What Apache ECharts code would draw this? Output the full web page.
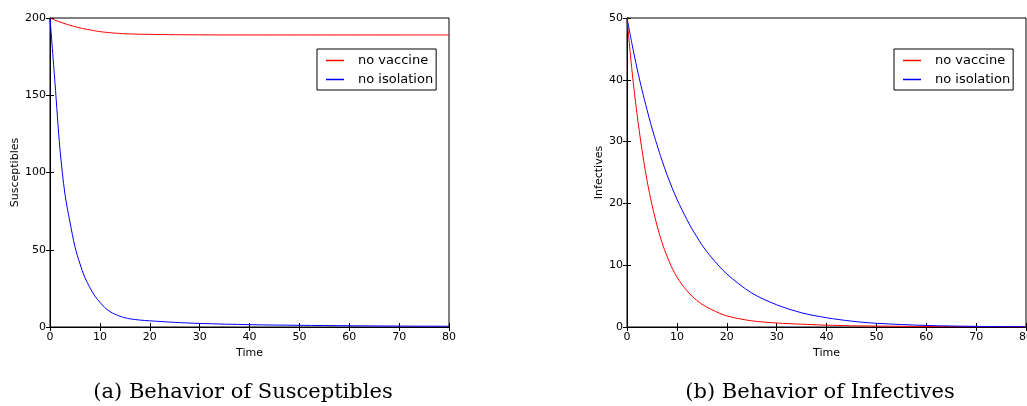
<!DOCTYPE html>
<html>
<head>
<meta charset="utf-8">
<script src="https://cdn.jsdelivr.net/npm/echarts@6/dist/echarts.min.js"></script>
<style>
html,body{margin:0;padding:0;background:#fff;}
#chart{width:1027px;height:406px;}
</style>
</head>
<body>
<div id="chart"></div>
<script>
// ---- data ----
var seriesNames = ['no vaccine', 'no isolation'];
var xTicks = [0, 10, 20, 30, 40, 50, 60, 70, 80];

var tSus = [0,1,2,3,4,5,6,7,8,9,10,11,12,13,14,15,16,18,20,25,30,40,50,60,70,80];
var susNoVaccine = [200,198.6,197.4,196.3,195.3,194.4,193.6,192.9,192.3,191.7,191.2,190.8,190.5,190.2,190.0,189.8,189.7,189.5,189.4,189.2,189.1,189.0,189.0,189.0,189.0,189.0];
var susNoIsolation = [200,158,115,86,68,52,41,32,25.5,20,16,12.5,10,8.3,7,6,5.3,4.5,4,3,2.3,1.5,1.1,0.8,0.6,0.5];

var tInf = [0,1,2,3,4,5,6,7,8,9,10,11,12,13,14,15,17,20,25,30,35,40,45,50,60,70,80];
var infNoVaccine = [50,41.5,34.5,28.7,23.8,19.8,16.5,13.7,11.5,9.6,8.1,6.9,5.9,5.0,4.3,3.7,2.8,1.8,1.0,0.65,0.45,0.3,0.2,0.15,0.08,0.04,0.02];
var infNoIsolation = [50,45.8,41.9,38.4,35.2,32.2,29.5,27.0,24.7,22.6,20.7,19.0,17.4,15.9,14.6,13.3,11.2,8.6,5.5,3.6,2.3,1.5,0.95,0.6,0.25,0.1,0.05];

var captionA = '(a) Behavior of Susceptibles';
var captionB = '(b) Behavior of Infectives';

function pairs(t, v){ return t.map(function(x,i){ return [x, v[i]]; }); }

var FONT = 'DejaVu Sans';
var RED = '#ff0000', BLUE = '#0000ff';

var grids = [
  {left: 50, top: 18, width: 399, height: 309, show: true, borderColor: '#000', borderWidth: 1, backgroundColor: 'transparent', containLabel: false, outerBoundsMode: 'none'},
  {left: 627, top: 18, width: 399, height: 309, show: true, borderColor: '#000', borderWidth: 1, backgroundColor: 'transparent', containLabel: false, outerBoundsMode: 'none'}
];

function xAxisBottom(gi){
  return {type: 'value', gridIndex: gi, min: 0, max: 80, interval: 10, position: 'bottom',
    name: 'Time', nameLocation: 'middle', nameGap: 21,
    nameTextStyle: {fontFamily: FONT, fontSize: 11, color: '#000'},
    axisLine: {show: true, lineStyle: {color: '#000', width: 1}},
    axisTick: {show: true, inside: true, length: 4, lineStyle: {color: '#000'}},
    axisLabel: {fontFamily: FONT, fontSize: 11, color: '#000', margin: 5},
    splitLine: {show: false}};
}
function xAxisTop(gi){
  return {type: 'value', gridIndex: gi, min: 0, max: 80, interval: 10, position: 'top',
    axisLine: {show: true, lineStyle: {color: '#000', width: 1}},
    axisTick: {show: true, inside: true, length: 4, lineStyle: {color: '#000'}},
    axisLabel: {show: false}, splitLine: {show: false}};
}
function yAxisLeft(gi, max, interval, name, gap){
  return {type: 'value', gridIndex: gi, min: 0, max: max, interval: interval, position: 'left',
    name: name, nameLocation: 'middle', nameGap: gap, nameRotate: 90,
    nameTextStyle: {fontFamily: FONT, fontSize: 11, color: '#000'},
    axisLine: {show: true, lineStyle: {color: '#000', width: 1}},
    axisTick: {show: true, inside: true, length: 4, lineStyle: {color: '#000'}},
    axisLabel: {fontFamily: FONT, fontSize: 11, color: '#000', margin: 4},
    splitLine: {show: false}};
}
function yAxisRight(gi, max, interval){
  return {type: 'value', gridIndex: gi, min: 0, max: max, interval: interval, position: 'right',
    axisLine: {show: true, lineStyle: {color: '#000', width: 1}},
    axisTick: {show: true, inside: true, length: 4, lineStyle: {color: '#000'}},
    axisLabel: {show: false}, splitLine: {show: false}};
}

function lineSeries(name, color, xi, yi, data){
  return {name: name, type: 'line', xAxisIndex: xi, yAxisIndex: yi, data: data,
    showSymbol: false, symbol: 'none', smooth: 0.3,
    lineStyle: {color: color, width: 1}, itemStyle: {color: color}, animation: false};
}

function legendAt(left, top){
  return {left: left, top: top, orient: 'vertical', data: seriesNames,
    icon: 'rect', itemWidth: 18, itemHeight: 1.5, itemGap: 6,
    borderColor: '#000', borderWidth: 1, padding: [5, 3, 4, 9],
    backgroundColor: '#fff',
    textStyle: {fontFamily: FONT, fontSize: 13, color: '#000', padding: [0, 0, 0, 9]},
    selectedMode: false};
}

var option = {
  animation: false,
  backgroundColor: '#fff',
  grid: grids,
  xAxis: [xAxisBottom(0), xAxisTop(0), xAxisBottom(1), xAxisTop(1)],
  yAxis: [yAxisLeft(0, 200, 50, 'Susceptibles', 28), yAxisRight(0, 200, 50),
          yAxisLeft(1, 50, 10, 'Infectives', 21), yAxisRight(1, 50, 10)],
  legend: [legendAt(317, 49), legendAt(894, 49)],
  series: [
    lineSeries(seriesNames[0], RED, 0, 0, pairs(tSus, susNoVaccine)),
    lineSeries(seriesNames[1], BLUE, 0, 0, pairs(tSus, susNoIsolation)),
    lineSeries(seriesNames[0], RED, 2, 2, pairs(tInf, infNoVaccine)),
    lineSeries(seriesNames[1], BLUE, 2, 2, pairs(tInf, infNoIsolation))
  ],
  graphic: [
    {type: 'text', x: 243, y: 393, style: {text: captionA, font: '21px "DejaVu Serif"', fill: '#000', align: 'center', verticalAlign: 'middle'}},
    {type: 'text', x: 820, y: 393, style: {text: captionB, font: '21px "DejaVu Serif"', fill: '#000', align: 'center', verticalAlign: 'middle'}}
  ]
};

var chart = echarts.init(document.getElementById('chart'), null, {renderer: 'canvas'});
chart.setOption(option);
</script>
</body>
</html>
